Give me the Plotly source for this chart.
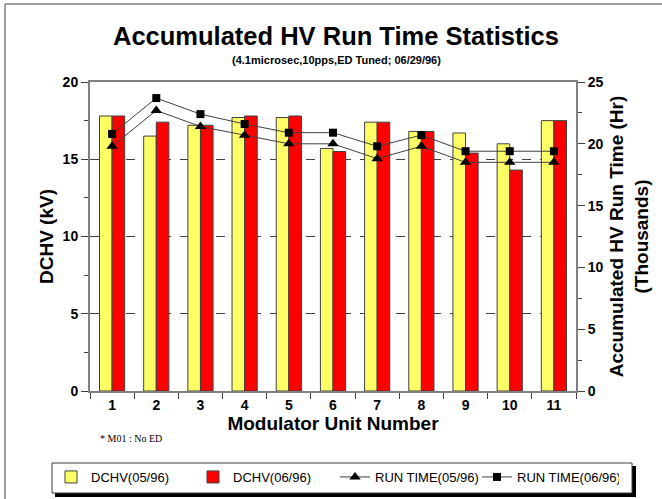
import plotly.graph_objects as go

units = ["1", "2", "3", "4", "5", "6", "7", "8", "9", "10", "11"]
dchv_0596 = [17.8, 16.5, 17.2, 17.7, 17.7, 15.7, 17.4, 16.8, 16.7, 16.0, 17.5]
dchv_0696 = [17.8, 17.4, 17.2, 17.8, 17.8, 15.5, 17.4, 16.8, 15.4, 14.3, 17.5]
run_0596 = [19.8, 22.7, 21.4, 20.7, 20.0, 20.0, 18.8, 19.8, 18.5, 18.5, 18.5]
run_0696 = [20.8, 23.7, 22.4, 21.6, 20.9, 20.9, 19.8, 20.7, 19.4, 19.4, 19.4]

FONT = "Arial, 'Liberation Sans', sans-serif"
W, H = 662, 499
L, R, T, B = 90, 576, 82, 391


def px(x):
    return (x - L) / (R - L)


def py(y):
    return (B - y) / (B - T)


fig = go.Figure()
fig.add_trace(go.Bar(x=units, y=dchv_0596, name="DCHV(05/96)",
                     marker=dict(color="#FFFF66", line=dict(color="#404040", width=1))))
fig.add_trace(go.Bar(x=units, y=dchv_0696, name="DCHV(06/96)",
                     marker=dict(color="#FF0000", line=dict(color="#404040", width=1))))
fig.add_trace(go.Scatter(x=units, y=run_0596, name="RUN TIME(05/96)", yaxis="y2",
                         mode="lines+markers",
                         line=dict(color="#404040", width=1),
                         marker=dict(symbol="triangle-up", size=10, color="black")))
fig.add_trace(go.Scatter(x=units, y=run_0696, name="RUN TIME(06/96)", yaxis="y2",
                         mode="lines+markers",
                         line=dict(color="#404040", width=1),
                         marker=dict(symbol="square", size=8, color="black")))

axis_line = dict(showline=True, linecolor="#808080", linewidth=2)

fig.update_layout(
    width=W, height=H,
    margin=dict(l=L, r=W - R, t=T, b=H - B, autoexpand=False),
    paper_bgcolor="white", plot_bgcolor="white",
    font=dict(family=FONT, color="black"),
    barmode="group", bargap=0.43, bargroupgap=0,
    showlegend=True,
    legend=dict(orientation="h", x=px(51), y=py(462), xanchor="left", yanchor="top",
                bgcolor="rgba(0,0,0,0)", borderwidth=0,
                font=dict(size=13, family=FONT), entrywidth=97,
                traceorder="normal"),
    xaxis=dict(type="category", range=[-0.5, 10.5], tickson="boundaries", ticks="outside",
               ticklen=6, tickcolor="#404040", mirror=True, showgrid=False,
               tickfont=dict(size=14, family=FONT, weight="bold"),
               title=dict(text="Modulator Unit Number", standoff=2,
                          font=dict(size=19, family=FONT, weight="bold")),
               **axis_line),
    yaxis=dict(range=[0, 20], dtick=5, ticks="outside", ticklen=7, tickcolor="#404040",
               showgrid=True, gridcolor="#404040", gridwidth=1, griddash="dash",
               zeroline=False,
               minor=dict(dtick=2.5, ticks="outside", ticklen=4, tickcolor="#404040", showgrid=False),
               tickfont=dict(size=14, family=FONT, weight="bold"),
               title=dict(text="DCHV (kV)", standoff=4,
                          font=dict(size=19, family=FONT, weight="bold")),
               **axis_line),
    yaxis2=dict(range=[0, 25], dtick=5, overlaying="y", side="right", ticks="outside",
                ticklen=7, tickcolor="#404040", showgrid=False, zeroline=False,
                minor=dict(dtick=2.5, ticks="outside", ticklen=4, tickcolor="#404040"),
                tickfont=dict(size=14, family=FONT, weight="bold"),
                title=dict(text="Accumulated HV Run Time (Hr)<br>(Thousands)", standoff=7,
                           font=dict(size=19, family=FONT, weight="bold")),
                **axis_line),
    annotations=[
        dict(text="<b>Accumulated HV Run Time Statistics</b>", xref="paper", yref="paper",
             x=px(336), y=py(36), xanchor="center", yanchor="middle", showarrow=False,
             font=dict(size=25.5, family=FONT)),
        dict(text="<b>(4.1microsec,10pps,ED Tuned; 06/29/96)</b>", xref="paper", yref="paper",
             x=px(336), y=py(60), xanchor="center", yanchor="middle", showarrow=False,
             font=dict(size=11, family=FONT)),
        dict(text="* M01 : No ED", xref="paper", yref="paper",
             x=px(98), y=py(438), xanchor="left", yanchor="middle", showarrow=False,
             font=dict(size=10, family="'Liberation Serif', 'DejaVu Serif', serif")),
    ],
    shapes=[
        dict(type="line", xref="paper", yref="paper", x0=px(5), x1=px(5), y0=py(4), y1=py(499),
             line=dict(color="#404040", width=1)),
        dict(type="line", xref="paper", yref="paper", x0=px(5), x1=px(662), y0=py(4), y1=py(4),
             line=dict(color="#404040", width=1)),
        dict(type="rect", xref="paper", yref="paper", x0=px(55), x1=px(636), y0=py(466), y1=py(497),
             fillcolor="black", line=dict(width=0), layer="below"),
        dict(type="rect", xref="paper", yref="paper", x0=px(52), x1=px(632), y0=py(463), y1=py(493),
             fillcolor="white", line=dict(color="#404040", width=1), layer="below"),
    ],
)

fig.write_html("out.html", config={"displayModeBar": False},
               post_script="document.body.style.margin='0';document.body.style.overflow='hidden';")
